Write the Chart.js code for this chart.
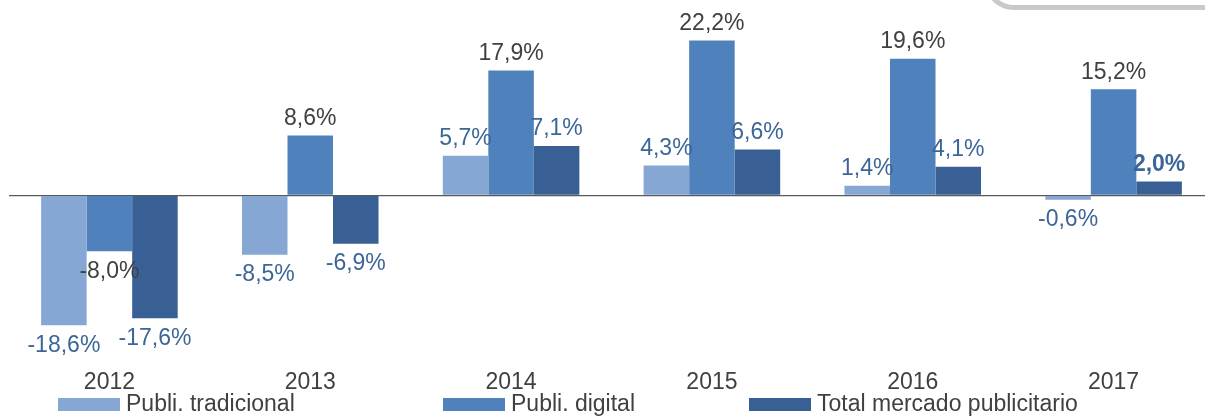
<!DOCTYPE html>
<html>
<head>
<meta charset="utf-8">
<script src="https://cdn.jsdelivr.net/npm/chart.js@4/dist/chart.umd.min.js"></script>
<style>
  html, body { margin: 0; padding: 0; background: #fff; overflow: hidden; }
  #wrap { position: relative; width: 1214px; height: 417px; }
  #corner {
    position: absolute; left: 984px; top: -50px; width: 400px; height: 50px;
    border: 5px solid #c9c9c9; border-radius: 30px; background: #fff;
  }
</style>
</head>
<body>
<div id="wrap">
  <canvas id="growthChart"></canvas>
  <div id="corner"></div>
</div>
<script>
var years = ['2012', '2013', '2014', '2015', '2016', '2017']
var publiTradicional = [-18.6, -8.5, 5.7, 4.3, 1.4, -0.6]
var publiDigital = [-8.0, 8.6, 17.9, 22.2, 19.6, 15.2]
var totalMercado = [-17.6, -6.9, 7.1, 6.6, 4.1, 2.0]
var seriesNames = ['Publi. tradicional', 'Publi. digital', 'Total mercado publicitario']

var colLight = '#86a7d3'
var colMid = '#4f81bd'
var colDark = '#386094'
var labelBlue = '#3c6698'
var labelGray = '#404040'
var fontFamily = '"Liberation Sans", Arial, sans-serif'

function fmt(v) {
    return v.toFixed(1).replace('.', ',') + '%'
}

// value labels on top / below each bar
var valueLabels = {
    id: 'valueLabels',
    afterDatasetsDraw: function (chart) {
        var ctx = chart.ctx
        ctx.save()
        ctx.textAlign = 'center'
        ctx.textBaseline = 'middle'
        chart.data.datasets.forEach(function (ds, i) {
            var meta = chart.getDatasetMeta(i)
            meta.data.forEach(function (bar, j) {
                var v = ds.data[j]
                var bold = (i === 2 && j === 5)
                ctx.font = (bold ? 'bold ' : '') + '23px ' + fontFamily
                ctx.fillStyle = ds.labelColor
                var y = v >= 0 ? bar.y - 17 : bar.y + 20
                ctx.fillText(fmt(v), bar.x, y)
            })
        })
        ctx.restore()
    }
}

// legend drawn along the bottom edge
var bottomLegend = {
    id: 'bottomLegend',
    afterDraw: function (chart) {
        var ctx = chart.ctx
        var boxX = [58, 443, 749]
        ctx.save()
        ctx.font = '23px ' + fontFamily
        ctx.textBaseline = 'middle'
        chart.data.datasets.forEach(function (ds, i) {
            ctx.fillStyle = ds.backgroundColor
            ctx.fillRect(boxX[i], 398, 62, 13)
            ctx.fillStyle = labelGray
            ctx.fillText(ds.label, boxX[i] + 68, 405)
        })
        ctx.restore()
    }
}

var growthChartCanvas = document.getElementById('growthChart').getContext('2d')

var growthChartData = {
    labels: years,
    datasets: [
        { label: seriesNames[0], data: publiTradicional, backgroundColor: colLight, labelColor: labelBlue },
        { label: seriesNames[1], data: publiDigital, backgroundColor: colMid, labelColor: labelGray },
        { label: seriesNames[2], data: totalMercado, backgroundColor: colDark, labelColor: labelBlue }
    ]
}

var growthChartOptions = {
    responsive: true,
    maintainAspectRatio: false,
    animation: false,
    layout: { padding: { left: 9, right: 0, top: 0, bottom: 0 } },
    datasets: {
        bar: { categoryPercentage: 0.68, barPercentage: 1.0 }
    },
    plugins: {
        legend: { display: false },
        tooltip: { enabled: false }
    },
    scales: {
        x: {
            grid: { display: false },
            border: { display: false },
            ticks: {
                color: labelGray,
                font: { family: fontFamily, size: 23 },
                padding: -2
            },
            afterFit: function (scale) { scale.height = 54 }
        },
        y: {
            min: -24,
            max: 28,
            border: { display: false },
            ticks: { display: false, stepSize: 4 },
            grid: {
                drawTicks: false,
                lineWidth: 1.3,
                color: function (c) { return c.tick && c.tick.value === 0 ? '#595959' : 'rgba(0,0,0,0)' }
            },
            afterFit: function (scale) { scale.width = 0 }
        }
    }
}

var growthChart = new Chart(growthChartCanvas, {
    type: 'bar',
    data: growthChartData,
    options: growthChartOptions,
    plugins: [valueLabels, bottomLegend]
})
</script>
</body>
</html>
